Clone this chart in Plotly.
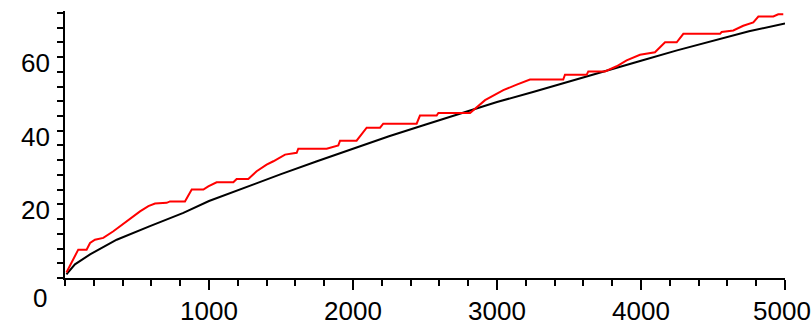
import plotly.graph_objects as go

# Red (stepped) series: x, y
red_x = [10, 46, 92, 150, 174, 208, 266, 336, 428, 521, 579, 625, 706, 729, 833, 880, 961, 995,
         1053, 1169, 1192, 1273, 1331, 1400, 1447, 1528, 1609, 1620, 1817, 1898, 1910, 2025, 2095,
         2188, 2210, 2442, 2465, 2581, 2593, 2813, 2917, 3044, 3137, 3229, 3460, 3472, 3623, 3634,
         3750, 3831, 3900, 3993, 4097, 4167, 4248, 4294, 4549, 4560, 4641, 4710, 4780, 4815, 4919,
         4953, 4988]
red_y = [1.5, 4.1, 7.7, 7.7, 9.5, 10.4, 10.9, 12.7, 15.4, 18.1, 19.5, 20.2, 20.4, 20.8, 20.8, 24.0, 24.0, 24.9,
         26.0, 26.0, 26.9, 26.9, 29.0, 30.8, 31.7, 33.5, 34.0, 35.1, 35.1, 36.0, 37.3, 37.3, 40.8,
         40.8, 41.9, 41.9, 44.1, 44.1, 44.8, 44.8, 48.3, 51.0, 52.5, 53.9, 53.9, 55.2, 55.2, 56.1,
         56.1, 57.5, 59.1, 60.6, 61.3, 64.0, 64.0, 66.3, 66.3, 66.8, 67.2, 68.5, 69.4, 71.0, 71.0,
         71.6, 71.6]

# Black (smooth) series
black_x = [10, 69, 174, 359, 590, 822, 1000, 1250, 1500, 1750, 2000, 2250, 2500, 2750, 3000,
           3250, 3500, 3750, 4000, 4250, 4500, 4750, 5000]
black_y = [1.0, 3.7, 6.4, 10.4, 14.1, 17.7, 20.9, 24.6, 28.2, 31.7, 35.2, 38.5, 41.6, 44.8, 47.8,
           50.5, 53.4, 56.2, 59.0, 61.8, 64.5, 67.0, 69.1]

x_ticks = [1000, 2000, 3000, 4000, 5000]
y_ticks = [0, 20, 40, 60]

fig = go.Figure()
fig.add_trace(go.Scatter(x=black_x, y=black_y, mode="lines",
                         line=dict(color="black", width=2), showlegend=False))
fig.add_trace(go.Scatter(x=red_x, y=red_y, mode="lines",
                         line=dict(color="#ff0000", width=2), showlegend=False))

font = dict(family="Liberation Sans", size=26, color="black")

annotations = []
for v in y_ticks:
    annotations.append(dict(text=str(v), xref="paper", yref="y", x=0, y=v, showarrow=False,
                            xanchor="right", yanchor="middle",
                            xshift=(-13 if v else -16), yshift=(-6 if v else -20),
                            font=font))
# last x label, nudged so it stays inside the page
annotations.append(dict(text=str(x_ticks[-1]), xref="x", yref="paper", x=x_ticks[-1], y=0,
                        showarrow=False, xanchor="right", yanchor="top",
                        xshift=28, yshift=-16, font=font))

fig.update_layout(
    width=812, height=325,
    margin=dict(l=65, r=27, t=11, b=47, autoexpand=False),
    paper_bgcolor="white", plot_bgcolor="white",
    xaxis=dict(range=[0, 5000], tickvals=x_ticks,
               ticktext=[str(v) for v in x_ticks[:-1]] + [""],
               showgrid=False, zeroline=False, showline=True, linecolor="black", linewidth=2,
               ticks="outside", ticklen=10, tickwidth=2, tickcolor="black", tickfont=font,
               ticklabelstandoff=-1, ticklabeloverflow="allow", automargin=False,
               minor=dict(dtick=200, tick0=0, ticks="outside", ticklen=6, tickwidth=2,
                          tickcolor="black", showgrid=False)),
    yaxis=dict(range=[0, 72.5], tickvals=[20, 40, 60], showticklabels=False,
               showgrid=False, zeroline=False, showline=True, linecolor="black", linewidth=2,
               ticks="outside", ticklen=6, tickwidth=2, tickcolor="black", automargin=False,
               minor=dict(dtick=4, tick0=0, ticks="outside", ticklen=6, tickwidth=2,
                          tickcolor="black", showgrid=False)),
    annotations=annotations,
)

fig.write_html("out.html", config={"displayModeBar": False},
               post_script="document.body.style.margin='0';document.body.style.overflow='hidden';")
